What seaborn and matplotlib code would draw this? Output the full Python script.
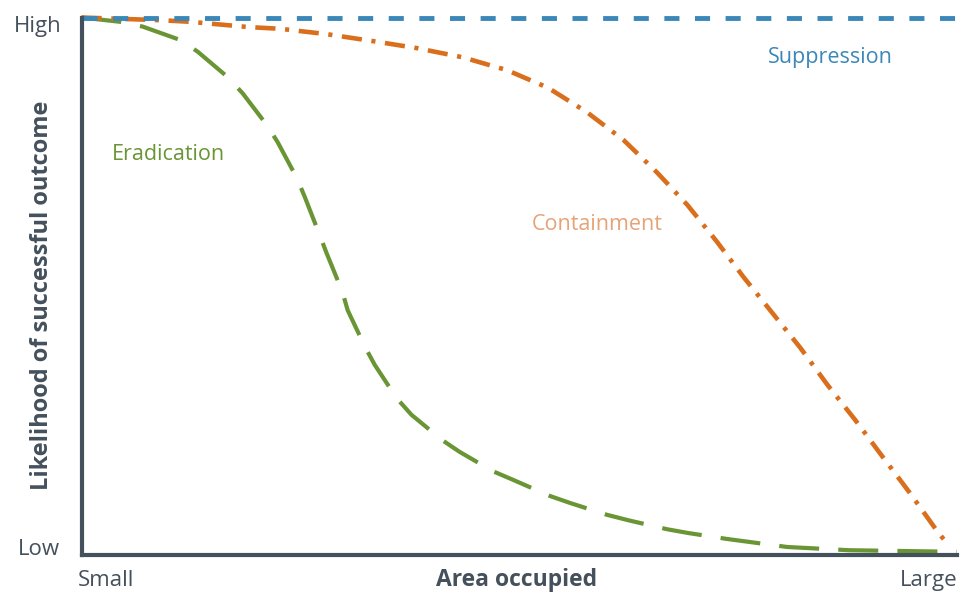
import matplotlib
matplotlib.use("Agg")
from matplotlib import pyplot as plt
import seaborn as sns
import pandas as pd

# values, x: 0 = small area, 1 = large area; y: 0 = low, 1 = high
erad_x = [0.0, 0.044, 0.070, 0.113, 0.133, 0.167, 0.184, 0.212, 0.224, 0.246, 0.255, 0.272, 0.280,
          0.298, 0.304, 0.324, 0.335, 0.360, 0.377, 0.412, 0.432, 0.470, 0.493, 0.535, 0.558,
          0.600, 0.624, 0.669, 0.693, 0.737, 0.806, 0.876, 1.0]
erad_y = [1.0, 0.992, 0.983, 0.958, 0.936, 0.889, 0.859, 0.799, 0.768, 0.701, 0.666, 0.595, 0.561,
          0.489, 0.455, 0.386, 0.353, 0.291, 0.260, 0.213, 0.191, 0.155, 0.139, 0.109, 0.096,
          0.074, 0.064, 0.047, 0.040, 0.029, 0.014, 0.008, 0.005]

cont_x = [0.0, 0.090, 0.124, 0.192, 0.227, 0.280, 0.333, 0.383, 0.435, 0.486, 0.533, 0.577, 0.619,
          0.657, 0.692, 0.726, 0.756, 0.789, 0.821, 0.852, 0.884, 0.915, 0.946, 0.978, 0.990]
cont_y = [1.0, 0.995, 0.992, 0.982, 0.979, 0.969, 0.956, 0.943, 0.926, 0.902, 0.869, 0.824, 0.772,
          0.712, 0.651, 0.582, 0.517, 0.450, 0.385, 0.316, 0.250, 0.182, 0.115, 0.042, 0.018]

supp_x = [0.0, 1.0]
supp_y = [1.0, 1.0]

dark = '#44505c'
blue = '#3a87b8'
orange = '#d96f1c'
green = '#6a9535'

sns.set_style('white')
plt.rcParams['font.family'] = ['Open Sans', 'DejaVu Sans']

fig = plt.figure(figsize=(9.6, 5.93), dpi=100)
ax = fig.add_axes([81.5 / 960, (593 - 554.5) / 593, (957 - 81.5) / 960, 537 / 593])

supp = pd.DataFrame({'x': supp_x, 'y': supp_y})
cont = pd.DataFrame({'x': cont_x, 'y': cont_y})
erad = pd.DataFrame({'x': erad_x, 'y': erad_y})

sns.lineplot(data=erad, x='x', y='y', color=green, lw=3.0, estimator=None, sort=False, ax=ax)
ax.lines[-1].set_dashes((9.6, 4.6))
sns.lineplot(data=cont, x='x', y='y', color=orange, lw=3.3, estimator=None, sort=False, ax=ax)
ax.lines[-1].set_dashes((4.4, 2.1, 0.9, 2.1))
sns.lineplot(data=supp, x='x', y='y', color=blue, lw=3.5, estimator=None, sort=False, ax=ax)
ax.lines[-1].set_dashes((3.1, 3.2))
for ln in ax.lines:
    ln.set_clip_on(False)

ax.set_xlim(0, 1)
ax.set_ylim(0, 1)
ax.set_xticks([])
ax.set_yticks([])
ax.set_xlabel('')
ax.set_ylabel('')
for side in ['top', 'right']:
    ax.spines[side].set_visible(False)
for side in ['left', 'bottom']:
    ax.spines[side].set_color(dark)
    ax.spines[side].set_linewidth(3)

# series labels
ax.text(0.855, 0.926, 'Suppression', color=blue, fontsize=15.5, ha='center', va='center', transform=ax.transAxes)
ax.text(0.0988, 0.744, 'Eradication', color=green, fontsize=15.5, ha='center', va='center', transform=ax.transAxes)
ax.text(0.589, 0.614, 'Containment', color='#e6a378', fontsize=15.5, ha='center', va='center', transform=ax.transAxes)

# axis end labels
ax.text(-0.0223, 0.984, 'High', color=dark, fontsize=16, ha='right', va='center', transform=ax.transAxes)
ax.text(-0.0246, 0.0084, 'Low', color=dark, fontsize=16, ha='right', va='center', transform=ax.transAxes)
ax.text(-0.004, -0.0475, 'Small', color=dark, fontsize=16, ha='left', va='center', transform=ax.transAxes)
ax.text(1.0, -0.0475, 'Large', color=dark, fontsize=16, ha='right', va='center', transform=ax.transAxes)
ax.text(0.497, -0.0475, 'Area occupied', color=dark, fontsize=16.5, fontweight='bold',
        ha='center', va='center', transform=ax.transAxes)
ax.text(-0.0451, 0.483, 'Likelihood of successful outcome', color=dark, fontsize=17, fontweight='bold',
        rotation=90, ha='center', va='center', transform=ax.transAxes)

fig.savefig('out.png', dpi=100)
